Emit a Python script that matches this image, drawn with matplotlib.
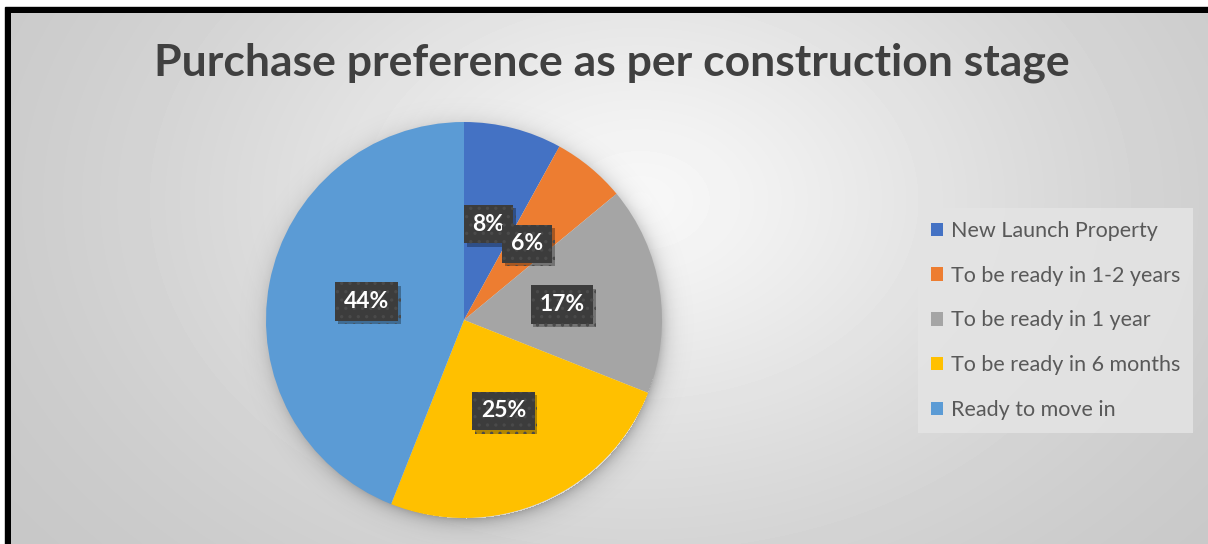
import numpy as np
import matplotlib.pyplot as plt
from matplotlib import patheffects
from matplotlib.patches import Rectangle

# Survey shares by construction stage (percent)
labels = [
    "New Launch Property",
    "To be ready in 1-2 years",
    "To be ready in 1 year",
    "To be ready in 6 months",
    "Ready to move in",
]
shares = [8, 6, 17, 25, 44]
colors = ["#4472C4", "#ED7D31", "#A5A5A5", "#FFC000", "#5B9BD5"]

plt.rcParams["font.family"] = ["Lato", "DejaVu Sans"]

W, H = 1208, 544
fig = plt.figure(figsize=(W / 100, H / 100), dpi=100)
fig.patch.set_facecolor("white")

# background layer in pixel units: black frame + radial gradient
bg = fig.add_axes([0, 0, 1, 1])
bg.set_xlim(0, W)
bg.set_ylim(H, 0)
bg.axis("off")
bg.add_patch(Rectangle((5, 7), W, H, color="black", zorder=0))

yy, xx = np.mgrid[13:H, 11:W].astype(float)
d = np.sqrt(((xx - 640) / 700) ** 2 + ((yy - 200) / 500) ** 2)
shade = 0.97 - 0.21 * np.tanh(1.25 * d ** 1.3)
bg.imshow(shade, extent=(11, W, H, 13), cmap="gray", vmin=0, vmax=1,
          aspect="auto", interpolation="bilinear", zorder=1)

# soft shadow around the pie
cx, cy, R = 464, 320, 198
sy, sx = np.mgrid[0:H, 0:W].astype(float)
dist = np.sqrt((sx - cx - 2) ** 2 + (sy - cy - 4) ** 2)
alpha = np.where(dist > R - 4, 0.25 * np.exp(-np.clip(dist - R + 4, 0, None) / 8), 0)
shadow = np.zeros((H, W, 4))
shadow[..., 3] = alpha
bg.imshow(shadow, extent=(0, W, H, 0), aspect="auto", zorder=2)

# pie
r125 = R * 1.25
ax = fig.add_axes([(cx - r125) / W, (H - cy - r125) / H, 2 * r125 / W, 2 * r125 / H])
wedges, texts, autotexts = ax.pie(
    shares, colors=colors, startangle=90, counterclock=False,
    autopct=lambda p: f"{p:.0f}%", pctdistance=0.5,
    wedgeprops=dict(linewidth=0),
)
ax.set_xlim(-1.25, 1.25)
ax.set_ylim(-1.25, 1.25)

plt.rcParams["hatch.linewidth"] = 1.2
for t in autotexts:
    t.set_color("white")
    t.set_fontweight("bold")
    t.set_fontsize(16.5)
    t.set_bbox(dict(boxstyle="square,pad=0.38", facecolor="#3c3c3c",
                    edgecolor="#4a4a4a", linewidth=0, hatch=".."))
    t.get_bbox_patch().set_path_effects([
        patheffects.withSimplePatchShadow(offset=(2, -2.5), shadow_rgbFace="black", alpha=0.3),
        patheffects.Normal(),
    ])

fig.text(612 / W, 1 - 63 / H, "Purchase preference as per construction stage",
         ha="center", va="center", fontsize=32, fontweight="bold", color="#404040")

leg = ax.legend(
    wedges, labels, loc="upper left",
    bbox_to_anchor=(918 / W, 1 - 208 / H), bbox_transform=fig.transFigure,
    borderaxespad=0, frameon=True, fancybox=False, fontsize=15.5,
    handlelength=0.58, handleheight=0.58, handletextpad=0.35,
    labelspacing=1.15, borderpad=0.6, labelcolor="#595959",
)
frame = leg.get_frame()
frame.set_facecolor("#e4e4e4")
frame.set_edgecolor("none")
frame.set_alpha(0.85)

fig.savefig("out.png", dpi=100)
